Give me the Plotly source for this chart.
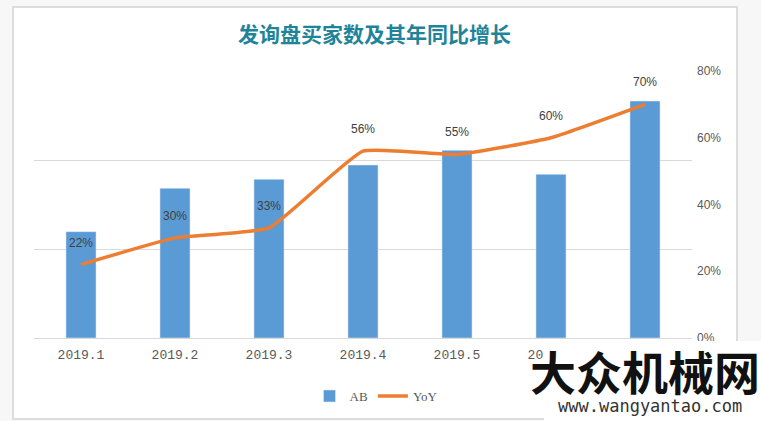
import plotly.graph_objects as go

categories = ["2019.1", "2019.2", "2019.3", "2019.4", "2019.5", "2019.6", "2019.7"]
ab_values = [1195, 1683, 1783, 1944, 2109, 1839, 2663]
yoy_values = [22, 30, 33, 56, 55, 60, 70]
yoy_labels = ["22%", "30%", "33%", "56%", "55%", "60%", "70%"]
right_ticks = [0, 20, 40, 60, 80]
right_tick_labels = ["0%", "20%", "40%", "60%", "80%"]
title_text = "发询盘买家数及其年同比增长"

W, H = 761, 421
L, R, T, B = 34, 692, 71, 338

def px(x):
    return (x - L) / (R - L)

def py(y):
    return (B - y) / (B - T)

fig = go.Figure()
fig.add_trace(go.Bar(
    x=categories, y=ab_values, name="AB", marker_color="#5B9BD5",
    width=0.32, yaxis="y"))
fig.add_trace(go.Scatter(
    x=categories, y=yoy_values, name="YoY", mode="lines",
    line=dict(color="#ED7D31", width=3.5, shape="spline", smoothing=0.4),
    yaxis="y2"))

annotations = []
for i, (v, t) in enumerate(zip(yoy_values, yoy_labels)):
    annotations.append(dict(x=i, y=v, xref="x", yref="y2", text=t, showarrow=False,
                            yshift=22, font=dict(family="Liberation Sans", size=12, color="#404040")))

annotations.append(dict(x=px(374), y=py(33), xref="paper", yref="paper", text="<b>" + title_text + "</b>",
                        xanchor="center", yanchor="middle", showarrow=False,
                        font=dict(family="Noto Sans CJK SC", size=21, color="#1f8499")))
annotations.append(dict(x=px(645), y=py(370), xref="paper", yref="paper", text="<b>大众机械网</b>",
                        xanchor="center", yanchor="middle", showarrow=False,
                        font=dict(family="Noto Sans CJK SC", size=46, color="#111111")))
annotations.append(dict(x=px(650), y=py(406), xref="paper", yref="paper", text="www.wangyantao.com",
                        xanchor="center", yanchor="middle", showarrow=False,
                        font=dict(family="DejaVu Sans Mono", size=17, color="#333333")))

shapes = [
    dict(type="rect", xref="paper", yref="paper", x0=px(13), x1=px(737), y0=py(419), y1=py(7),
         line=dict(color="#d4d4d4", width=1.5), fillcolor="white", layer="below"),
    dict(type="rect", xref="paper", yref="paper", x0=px(544), x1=px(761), y0=py(421), y1=py(341),
         line=dict(width=0), fillcolor="white", layer="above"),
]

fig.update_layout(
    width=W, height=H,
    margin=dict(l=L, r=W - R, t=T, b=H - B, autoexpand=False),
    paper_bgcolor="#f7f7f7", plot_bgcolor="rgba(0,0,0,0)",
    showlegend=True,
    legend=dict(orientation="h", x=px(376), y=py(381), xanchor="center", yanchor="top",
                font=dict(family="Liberation Serif", size=13, color="#595959"),
                bgcolor="rgba(0,0,0,0)"),
    xaxis=dict(type="category", showgrid=False, showline=True, linecolor="#d9d9d9", linewidth=1,
               ticks="", tickfont=dict(family="Liberation Mono", size=13, color="#595959"),
               range=[-0.5, 6.5], automargin=False, ticklabelstandoff=4),
    yaxis=dict(range=[0, 3000.5], tickvals=[0, 1000, 2000, 3000], showticklabels=False,
               showgrid=True, gridcolor="#d9d9d9", gridwidth=1, zeroline=False, automargin=False),
    yaxis2=dict(range=[0, 80], overlaying="y", side="right", tickvals=right_ticks,
                ticktext=right_tick_labels, showgrid=False, zeroline=False, showline=False,
                tickfont=dict(family="Liberation Sans", size=12, color="#595959"), ticklabelstandoff=4,
                automargin=False),
    annotations=annotations, shapes=shapes, bargap=0.68,
)

fig.write_html("out.html")
